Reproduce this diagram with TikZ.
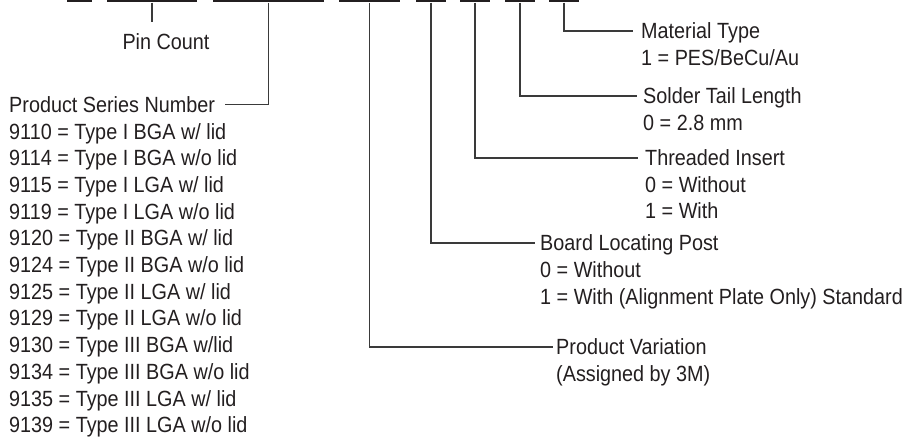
\documentclass[tikz,border=0pt]{standalone}
\usepackage{fontspec}
\setmainfont[FakeStretch=0.9]{Liberation Sans}
\definecolor{ink}{HTML}{231F20}
\definecolor{wire}{HTML}{3A3A3A}
\begin{document}
\begin{tikzpicture}[x=1pt,y=-1pt,
  bar/.style={fill=ink,draw=none,inner sep=0pt,minimum height=4.5pt},
  conn/.style={draw=wire,line width=1.2pt},
  lbl/.style={inner sep=0pt,text height=15.75pt,text depth=0pt,text=ink,
    font=\fontsize{22}{26.7}\selectfont,anchor=west}]
\useasboundingbox (0,0) rectangle (908,438);
% code bars
\node[bar,minimum width=25pt]  (bar1) at (79.5,0.25) {};
\node[bar,minimum width=90pt]  (bar2) at (152,0.25) {};
\node[bar,minimum width=111pt] (bar3) at (268.5,0.25) {};
\node[bar,minimum width=61pt]  (bar4) at (369.5,0.25) {};
\node[bar,minimum width=30pt]  (bar5) at (431,0.25) {};
\node[bar,minimum width=30pt]  (bar6) at (475,0.25) {};
\node[bar,minimum width=30pt]  (bar7) at (520,0.25) {};
\node[bar,minimum width=30pt]  (bar8) at (564,0.25) {};
% Pin count
\coordinate (pinend) at (152,22);
\node[lbl,anchor=center] (pin) at (166,42) {Pin Count};
% Product series number
\node[lbl] (psn) at (9,104.5) {Product Series Number};
\foreach \i/\t in {1/{9110 = Type I BGA w/ lid},2/{9114 = Type I BGA w/o lid},
  3/{9115 = Type I LGA w/ lid},4/{9119 = Type I LGA w/o lid},
  5/{9120 = Type II BGA w/ lid},6/{9124 = Type II BGA w/o lid},
  7/{9125 = Type II LGA w/ lid},8/{9129 = Type II LGA w/o lid},
  9/{9130 = Type III BGA w/lid},10/{9134 = Type III BGA w/o lid},
  11/{9135 = Type III LGA w/ lid},12/{9139 = Type III LGA w/o lid}}
  \node[lbl] (ps\i) at (9,104.5+26.7*\i) {\t};
% Product variation
\node[lbl] (pv) at (556,347) {Product Variation};
\node[lbl] (pv1) at (556,373.5) {(Assigned by 3M)};
% Board locating post
\node[lbl] (blp) at (540,243) {Board Locating Post};
\node[lbl] (blp0) at (540,270) {0 = Without};
\node[lbl] (blp1) at (540,297) {1 = With (Alignment Plate Only) Standard};
% Threaded insert
\node[lbl] (thr) at (645,158) {Threaded Insert};
\node[lbl] (thr0) at (645,184.5) {0 = Without};
\node[lbl] (thr1) at (645,211) {1 = With};
% Solder tail length
\node[lbl] (sol) at (643,96) {Solder Tail Length};
\node[lbl] (sol0) at (643,122.5) {0 = 2.8 mm};
% Material type
\node[lbl] (mat) at (641,31) {Material Type};
\node[lbl] (mat1) at (641,57.5) {1 = PES/BeCu/Au};
% connectors
\draw[conn] (bar2.south) -- (pinend);
\draw[conn] (bar3.south) |- ([xshift=10pt]psn.east);
\draw[conn] (bar4.south) |- ([xshift=-3pt]pv.west);
\draw[conn] (bar5.south) |- ([xshift=-5pt]blp.west);
\draw[conn] (bar6.south) |- ([xshift=-7pt]thr.west);
\draw[conn] (bar7.south) |- ([xshift=-6pt]sol.west);
\draw[conn] (bar8.south) |- ([xshift=-8pt]mat.west);
\end{tikzpicture}
\end{document}
